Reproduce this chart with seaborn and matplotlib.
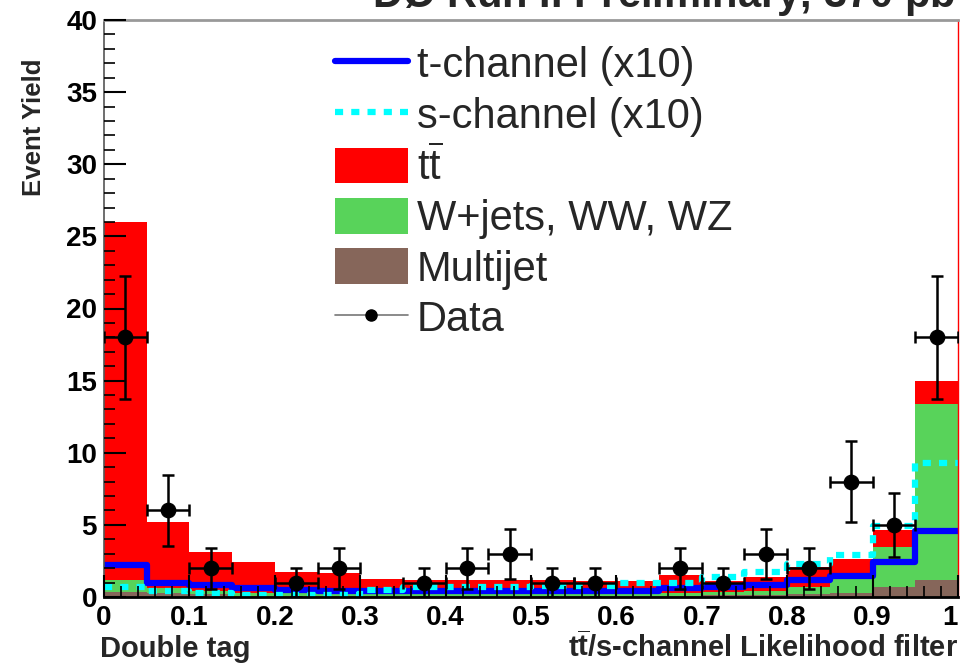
import numpy as np
import pandas as pd
import matplotlib
matplotlib.use("Agg")
import matplotlib.pyplot as plt
import seaborn as sns
from matplotlib.lines import Line2D
from matplotlib.patches import Patch
from matplotlib.ticker import MultipleLocator

# ---- data: 20 bins of width 0.05 on the likelihood discriminant ----
bin_edges = [0.00, 0.05, 0.10, 0.15, 0.20, 0.25, 0.30, 0.35, 0.40, 0.45, 0.50,
             0.55, 0.60, 0.65, 0.70, 0.75, 0.80, 0.85, 0.90, 0.95, 1.00]
bin_centers = [0.025, 0.075, 0.125, 0.175, 0.225, 0.275, 0.325, 0.375, 0.425, 0.475,
               0.525, 0.575, 0.625, 0.675, 0.725, 0.775, 0.825, 0.875, 0.925, 0.975]

ttbar = [24.8, 4.55, 2.65, 2.10, 1.45, 1.45, 1.05, 1.00, 1.00, 0.95,
         0.95, 0.90, 0.90, 1.25, 0.73, 1.00, 1.40, 1.00, 1.20, 1.60]
wjets = [0.85, 0.40, 0.25, 0.20, 0.15, 0.12, 0.12, 0.12, 0.12, 0.12,
         0.12, 0.12, 0.12, 0.15, 0.25, 0.25, 0.50, 1.35, 2.73, 12.22]
multijet = [0.35, 0.25, 0.20, 0.10, 0.10, 0.08, 0.08, 0.08, 0.08, 0.08,
            0.08, 0.08, 0.08, 0.10, 0.12, 0.15, 0.20, 0.30, 0.72, 1.18]

tchannel_x10 = [2.25, 1.00, 0.85, 0.62, 0.50, 0.45, 0.42, 0.42, 0.42, 0.45,
                0.45, 0.45, 0.45, 0.60, 0.70, 0.85, 1.15, 1.45, 2.40, 4.60]
schannel_x10 = [0.72, 0.42, 0.30, 0.15, 0.15, 0.15, 0.50, 0.70, 0.70, 0.70,
                0.75, 0.75, 1.00, 1.00, 1.40, 1.70, 2.30, 2.90, 4.90, 9.30]

data_counts = [18, 6, 2, 0, 1, 2, 0, 1, 2, 3,
               1, 1, 0, 2, 1, 3, 2, 8, 5, 18]

x_ticks = [0.0, 0.1, 0.2, 0.3, 0.4, 0.5, 0.6, 0.7, 0.8, 0.9, 1.0]
x_tick_labels = ["0", "0.1", "0.2", "0.3", "0.4", "0.5", "0.6", "0.7", "0.8", "0.9", "1"]
y_ticks = [0, 5, 10, 15, 20, 25, 30, 35, 40]
y_tick_labels = ["0", "5", "10", "15", "20", "25", "30", "35", "40"]

process_labels = ["ttbar", "wjets", "multijet"]
process_colors = {"ttbar": "#ff0000", "wjets": "#58d35a", "multijet": "#86665a"}

# ---- style ----
sns.set_style("white")
plt.rcParams["font.family"] = ["Liberation Sans", "DejaVu Sans"]
plt.rcParams["mathtext.fontset"] = "custom"
plt.rcParams["mathtext.rm"] = "Liberation Sans"
plt.rcParams["mathtext.bf"] = "Liberation Sans:bold"

NARROW = ["Liberation Sans Narrow", "Liberation Sans"]

W, H = 962, 664
fig = plt.figure(figsize=(W / 100, H / 100), dpi=100)
ax = fig.add_axes([104 / W, 1 - 597 / H, (958 - 104) / W, (597 - 20) / H])

# stacked backgrounds
stack_df = pd.DataFrame({
    "x": bin_centers * 3,
    "w": ttbar + wjets + multijet,
    "process": [p for p in process_labels for _ in bin_centers],
})
sns.histplot(data=stack_df, x="x", weights="w", hue="process", hue_order=process_labels,
             multiple="stack", bins=bin_edges, element="step", fill=True, alpha=1,
             linewidth=0, palette=process_colors, legend=False, ax=ax)

# single-top signals, scaled x10
sns.histplot(x=bin_centers, weights=tchannel_x10, bins=bin_edges, element="step",
             fill=False, color="#0000ff", linewidth=4.5, ax=ax)
sns.histplot(x=bin_centers, weights=schannel_x10, bins=bin_edges, element="step",
             fill=False, color="#00ffff", linewidth=4.5, linestyle=(0, (1.3, 1.3)),
             ax=ax)

# observed data
dc = np.array(data_counts, dtype=float)
xc = np.array(bin_centers)
mask = dc > 0
ax.errorbar(xc[mask], dc[mask], xerr=0.025, yerr=np.sqrt(dc[mask]), fmt="none",
            ecolor="black", elinewidth=1.8, capsize=4, capthick=1.8, zorder=5)
sns.scatterplot(x=xc[mask], y=dc[mask], color="black", s=110, edgecolor="black",
                zorder=6, ax=ax)

# ---- axes ----
ax.set_xlim(0, 1)
ax.set_ylim(0, 40)
ax.set_xlabel("")
ax.set_ylabel("")
ax.set_axisbelow(False)
ax.set_xticks(x_ticks, x_tick_labels)
ax.set_yticks(y_ticks, y_tick_labels)
ax.xaxis.set_minor_locator(MultipleLocator(0.02))
ax.yaxis.set_minor_locator(MultipleLocator(1))
ax.tick_params(which="major", direction="in", length=16, width=1.5, colors="black",
               top=False, right=False, bottom=True, left=True)
ax.tick_params(which="minor", direction="in", length=8, width=1.2, colors="black",
               top=False, right=False, bottom=True, left=True)
ax.tick_params(axis="x", which="major", pad=6)
ax.tick_params(axis="y", which="major", pad=5)
for lab in ax.get_xticklabels() + ax.get_yticklabels():
    lab.set_family(NARROW)
    lab.set_fontweight("bold")
    lab.set_fontsize(20)
# the last x label sits at the figure's right edge
ax.get_xticklabels()[-1].set_horizontalalignment("right")

ax.spines["left"].set_color("#555555")
ax.spines["left"].set_linewidth(1.2)
ax.spines["bottom"].set_color("black")
ax.spines["bottom"].set_linewidth(2)
ax.spines["top"].set_color("#999999")
ax.spines["top"].set_linewidth(2)
ax.spines["right"].set_color("#ff0000")
ax.spines["right"].set_linewidth(1)

# axis titles
fig.text(34 / W, 1 - 58 / H, "Event Yield", rotation=90, ha="center", va="top",
         fontsize=18.5, fontweight="bold", family=NARROW)
fig.text(100 / W, 1 - 657 / H, "Double tag", ha="left", va="baseline",
         fontsize=21, fontweight="bold")
fig.text(958 / W, 1 - 657 / H,
         r"$\mathbf{t}\overline{\mathbf{t}}$/s-channel Likelihood filter",
         ha="right", va="baseline", fontsize=21, fontweight="bold")

# header, partly running off the top edge
fig.text(372 / W, 1 - 8 / H, r"DØ Run II Preliminary, 370 pb$^{\mathbf{-1}}$",
         ha="left", va="baseline", fontsize=30, fontweight="bold")

# legend
handles = [
    Line2D([], [], color="#0000ff", linewidth=4.5),
    Line2D([], [], color="#00ffff", linewidth=4.5, linestyle=(0, (1.3, 1.3))),
    Patch(facecolor=process_colors["ttbar"], edgecolor="none"),
    Patch(facecolor=process_colors["wjets"], edgecolor="none"),
    Patch(facecolor=process_colors["multijet"], edgecolor="none"),
    Line2D([], [], color="#777777", linewidth=1.2, marker="o", markersize=8,
           markerfacecolor="black", markeredgecolor="black"),
]
labels = ["t-channel (x10)", "s-channel (x10)", r"$\mathrm{t}\overline{\mathrm{t}}$",
          "W+jets, WW, WZ", "Multijet", "Data"]
ax.legend(handles, labels, loc="upper left", bbox_to_anchor=(335 / W, 1 - 45 / H),
          bbox_transform=fig.transFigure, frameon=False, fontsize=30,
          handlelength=1.75, handleheight=0.95, handletextpad=0.22,
          labelspacing=0.22, borderpad=0, borderaxespad=0)

fig.savefig("out.png", dpi=100)
